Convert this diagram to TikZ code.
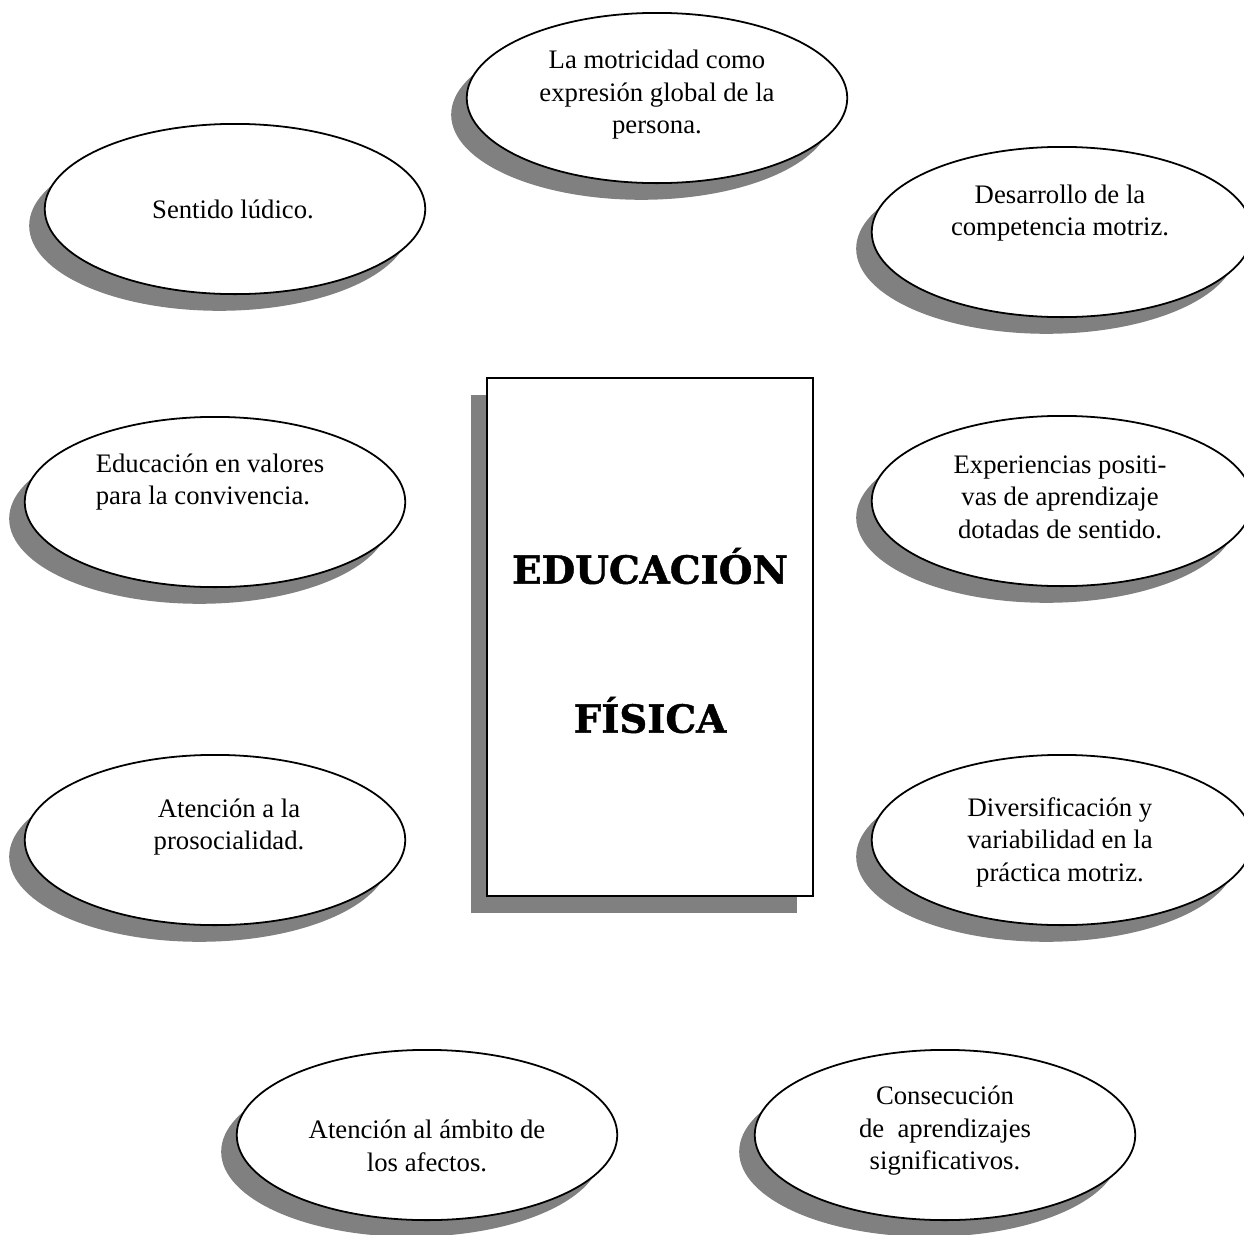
\documentclass[tikz,border=0pt]{standalone}
\usepackage{fontspec}
\setmainfont{Liberation Serif}
\newfontfamily\titlefont[BoldFeatures={FakeBold=1.2}]{DejaVu Serif}
\usetikzlibrary{shapes.geometric,shadows,positioning}

\begin{document}
\begin{tikzpicture}[x=0.4494pt,y=-0.4494pt]
	\useasboundingbox (0,0) rectangle (1244,1235);
	% Define the styles
	\tikzstyle{bubble} = [draw, ellipse, line width=0.8pt, fill=white, inner sep=0pt, minimum width=171pt, minimum height=76.5pt, drop shadow={shadow xshift=-7pt, shadow yshift=-7.5pt, fill=black!50, opacity=1}];
	\tikzstyle{bubtext} = [inner sep=0pt, font=\fontsize{12}{14.6}\selectfont];
	\tikzstyle{titlebox} = [draw, rectangle, line width=0.8pt, fill=white, inner sep=0pt, minimum width=146.5pt, minimum height=232.8pt, drop shadow={shadow xshift=-7.2pt, shadow yshift=-7.5pt, fill=black!50, opacity=1}];
	\tikzstyle{titletext} = [inner sep=0pt, font=\titlefont\bfseries\fontsize{17.4}{21}\selectfont];
	
	% Central box
	\node[titlebox] (edu) at (650,637) {};
	\node[titletext] (edutop) at (650,566) {EDUCACIÓN};
	\node[titletext] (edubot) at (650,715) {FÍSICA};
	
	% Draw the nine ellipses with their texts
	\foreach \n/\x/\y/\tx/\ty/\al/\t in {
		mot/657/98/657/95/center/{La motricidad como\\expresión global de la\\persona.},
		lud/235/209/233/209/center/{Sentido lúdico.},
		com/1062/232/1060/213/center/{Desarrollo de la\\competencia motriz.},
		val/215/502/210/482/left/{Educación en valores\\para la convivencia.},
		exp/1062/501/1060/497/center/{Experiencias positi-\\vas de aprendizaje\\dotadas de sentido.},
		pro/215/840/229/827/center/{Atención a la\\prosocialidad.},
		div/1062/840/1060/842/center/{Diversificación y\\variabilidad en la\\práctica motriz.},
		afe/427/1135/427/1146/center/{Atención al ámbito de\\los afectos.},
		sig/945/1135/945/1131/center/{Consecución\\de\ \ aprendizajes\\significativos.}}
	{
		\node[bubble] (e\n) at (\x,\y) {};
		\node[bubtext, align=\al] (t\n) at (\tx,\ty) {\t};
	}
\end{tikzpicture}
\end{document}
